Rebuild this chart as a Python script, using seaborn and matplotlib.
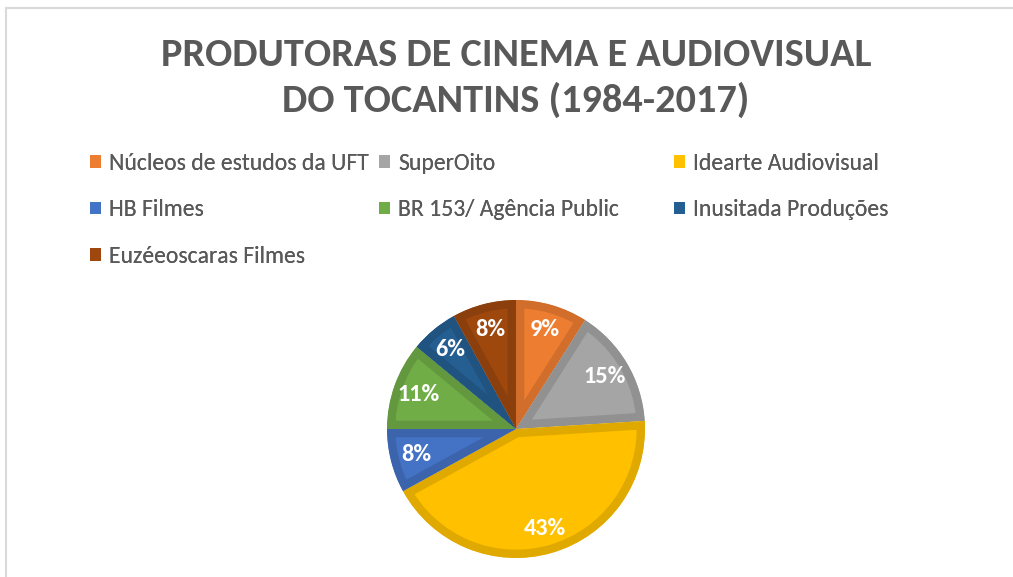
import matplotlib
matplotlib.use("Agg")
import matplotlib.pyplot as plt
from matplotlib.colors import to_rgb
from matplotlib.patches import Patch, Rectangle
import seaborn as sns

# data
producers = [
    "Núcleos de estudos da UFT",
    "SuperOito",
    "Idearte Audiovisual",
    "HB Filmes",
    "BR 153/ Agência Public",
    "Inusitada Produções",
    "Euzéeoscaras Filmes",
]
shares = [9, 15, 43, 8, 11, 6, 8]
colors = ["#ED7D31", "#A5A5A5", "#FFC000", "#4472C4", "#70AD47", "#255E91", "#9E480E"]
title_lines = ["PRODUTORAS DE CINEMA E AUDIOVISUAL", "DO TOCANTINS (1984-2017)"]

W, H = 1013, 577
TEXT_GREY = "#595959"

sns.set_theme(style="white")
plt.rcParams["font.family"] = ["Carlito", "DejaVu Sans"]


def darker(c, k=0.88):
    return tuple(v * k for v in to_rgb(c))


fig = plt.figure(figsize=(W / 100, H / 100), dpi=100)
fig.patch.set_facecolor("white")

# chart-area frame (cut off at right and bottom like in the screenshot)
fig.patches.append(Rectangle((6 / W, -0.1), 1.2, (H - 8) / H + 0.1,
                             transform=fig.transFigure, fill=False,
                             edgecolor="#d9d9d9", lw=1.5))

fig.text(516 / W, 1 - 78 / H, "\n".join(title_lines), ha="center", va="center",
         fontsize=29, fontweight="bold", color=TEXT_GREY, linespacing=1.3)

# pie
cx, cy, r = 516, 429, 129
ax = fig.add_axes([(cx - r) / W, (H - cy - r) / H, 2 * r / W, 2 * r / H])
wedges, texts, autotexts = ax.pie(
    shares, colors=colors, startangle=90, counterclock=False,
    autopct=lambda p: f"{p:.0f}%", pctdistance=0.8,
    textprops=dict(color="white", fontsize=17.5, fontweight="bold"),
)
ax.set_xlim(-1, 1)
ax.set_ylim(-1, 1)
ax.set_aspect("equal")
for w, c in zip(wedges, colors):
    w.set_edgecolor(darker(c))
    w.set_linewidth(12)
    # keep only the inner half of the stroke (pie turns clipping off)
    w.set_clip_path(w.get_path(), w.get_transform())
    w.set_clip_on(True)

# legend laid out in three columns like the original
columns = [([0, 3, 6], 90), ([1, 4], 379), ([2, 5], 674)]
for idx, x0 in columns:
    handles = [Patch(facecolor=colors[i], edgecolor="none") for i in idx]
    leg = fig.legend(handles, [producers[i] for i in idx], loc="upper left",
                     bbox_to_anchor=(x0 / W, 1 - 153 / H), frameon=False,
                     fontsize=17, handlelength=0.45, handleheight=0.45,
                     handletextpad=0.35, labelspacing=1.08, borderpad=0,
                     borderaxespad=0, labelcolor=TEXT_GREY)
    fig.add_artist(leg)

fig.savefig("out.png", dpi=100)
